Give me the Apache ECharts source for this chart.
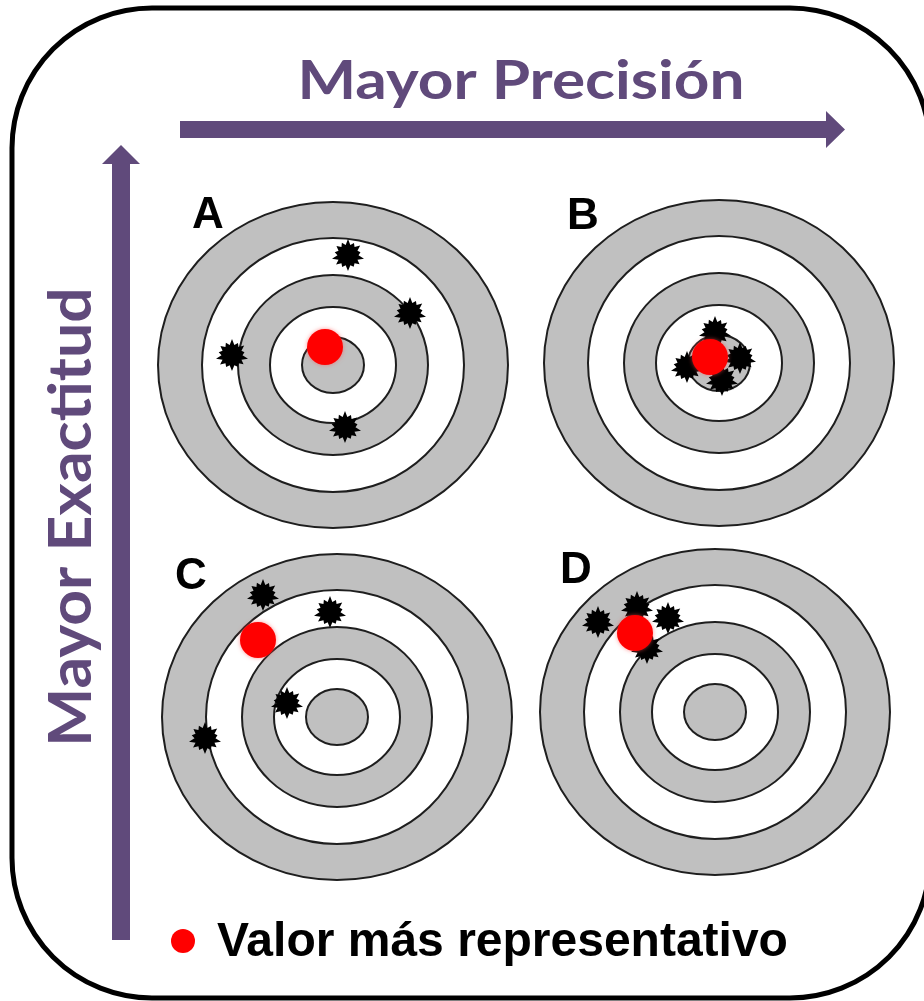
<!DOCTYPE html>
<html><head><meta charset="utf-8">
<style>html,body{margin:0;padding:0;background:#fff;}#c{width:924px;height:1001px;}</style>
<script src="https://cdn.jsdelivr.net/npm/echarts@6/dist/echarts.min.js"></script>
</head><body><div id="c"></div>
<script>
// ---- data ----
const targetLabels = ['A', 'B', 'C', 'D'];
const targetX = [333, 719, 337, 715];
const targetY = [365, 363, 717, 712];
const ringRx = [175, 131, 95, 63, 31];
const ringRy = [163, 127, 90, 58, 28];
// shot offsets from each target centre
const shotsA = [[15, -110], [77, -52], [-101, -10], [12, 62]];
const shotsB = [[-4, -31], [-32, 4], [21, -5], [3, 17]];
const shotsC = [[-74, -122], [-7, -105], [-50, -14], [-132, 21]];
const shotsD = [[-117, -90], [-78, -105], [-47, -94], [-68, -64]];
// most representative value (red dot) offsets
const meanOffsets = [[-8, -18], [-9, -6], [-79, -77], [-80, -79]];
const titleTop = 'Mayor Precisión';
const titleLeft = 'Mayor Exactitud';
const legendText = 'Valor más representativo';

// ---- build tables ----
const allShots = [shotsA, shotsB, shotsC, shotsD];
const targetData = targetX.map((x, i) => [x, targetY[i], targetLabels[i]]);
const shotData = [];
allShots.forEach((arr, i) => arr.forEach(o => shotData.push([targetX[i] + o[0], targetY[i] + o[1]])));
const meanData = meanOffsets.map((o, i) => [targetX[i] + o[0], targetY[i] + o[1]]);

// splat symbol
function splatPath() {
  const outer = [1.0, 0.84, 0.95, 0.78, 1.0, 0.9, 0.8, 0.98, 0.82, 0.93, 1.0, 0.83, 0.9, 0.86];
  const n = outer.length;
  let d = '';
  for (let i = 0; i < n * 2; i++) {
    const a = Math.PI * i / n - Math.PI / 2;
    const r = (i % 2 === 0 ? outer[i / 2] : 0.64) * 50;
    const x = (50 + r * Math.cos(a)).toFixed(2), y = (50 + r * Math.sin(a)).toFixed(2);
    d += (i === 0 ? 'M' : 'L') + x + ' ' + y + ' ';
  }
  return 'path://' + d + 'Z';
}

const PURPLE = '#604a7b';
const chart = echarts.init(document.getElementById('c'), null, {renderer: 'canvas'});
const graphics = [
  {type: 'rect', shape: {x: 12, y: 8, width: 918, height: 990, r: 140}, style: {fill: 'none', stroke: '#000', lineWidth: 5}, z: 10},
  {type: 'polygon', shape: {points: [[180,121],[826,121],[826,111],[845,129.5],[826,148],[826,138],[180,138]]}, style: {fill: PURPLE}},
  {type: 'polygon', shape: {points: [[121,145],[140,164],[130,164],[130,940],[112,940],[112,164],[102,164]]}, style: {fill: PURPLE}},
  {type: 'text', x: 521, y: 82, scaleX: 1.15, style: {text: titleTop, font: 'bold 54px Lato', fill: PURPLE, textAlign: 'center', align: 'center', textVerticalAlign: 'middle', verticalAlign: 'middle'}},
  {type: 'text', x: 72, y: 517, rotation: Math.PI / 2, scaleX: 1.04, style: {text: titleLeft, font: 'bold 60px Lato', fill: PURPLE, textAlign: 'center', align: 'center', textVerticalAlign: 'middle', verticalAlign: 'middle'}},
  {type: 'circle', shape: {cx: 183, cy: 941, r: 12}, style: {fill: '#ff0000'}},
  {type: 'text', x: 217, y: 943, style: {text: legendText, font: 'bold 48px "Liberation Sans"', fill: '#000', textAlign: 'left', align: 'left', textVerticalAlign: 'middle', verticalAlign: 'middle'}}
];

chart.setOption({
  animation: false,
  grid: {left: 0, right: 0, top: 0, bottom: 0},
  xAxis: {type: 'value', min: 0, max: 924, show: false},
  yAxis: {type: 'value', min: 0, max: 1001, inverse: true, show: false},
  graphic: graphics,
  series: [
    {
      type: 'custom',
      data: targetData,
      renderItem: function (params, api) {
        const c = api.coord([api.value(0), api.value(1)]);
        const children = [];
        for (let i = 0; i < ringRx.length; i++) {
          const s = api.size([ringRx[i], ringRy[i]]);
          children.push({type: 'ellipse', shape: {cx: c[0], cy: c[1], rx: s[0], ry: s[1]},
            style: {fill: i % 2 === 0 ? '#c0c0c0' : '#ffffff', stroke: '#1e1e1e', lineWidth: 2}});
        }
        const lab = api.value(2);
        const lo = {A: [-125, -149], B: [-136, -146], C: [-146, -140], D: [-139, -141]}[lab];
        children.push({type: 'text', style: {text: lab, x: c[0] + lo[0], y: c[1] + lo[1], font: 'bold 44px "Liberation Sans"', fill: '#000', align: 'center', verticalAlign: 'middle'}});
        return {type: 'group', children: children};
      }
    },
    {type: 'scatter', data: shotData, symbol: splatPath(), symbolSize: 32, itemStyle: {color: '#000', opacity: 1}, z: 3},
    {type: 'scatter', data: meanData, symbol: 'circle', symbolSize: 36, itemStyle: {color: '#ff0000', opacity: 1, shadowBlur: 4, shadowColor: 'rgba(255,80,80,0.6)'}, z: 4}
  ]
});
</script></body></html>
